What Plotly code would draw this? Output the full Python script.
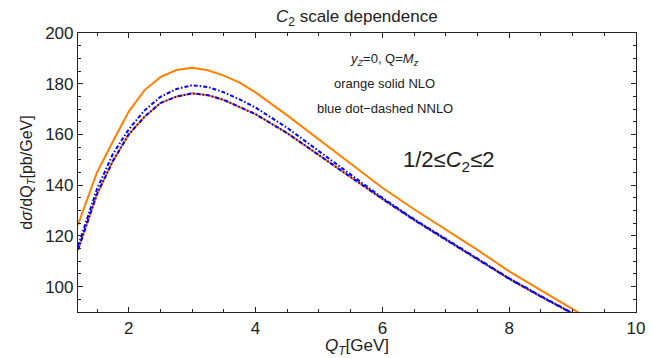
import plotly.graph_objects as go

qt = [1.2, 1.35, 1.5, 1.75, 2.0, 2.25, 2.5, 2.75, 3.0, 3.25, 3.5, 3.75, 4.0,
      4.5, 5.0, 5.5, 6.0, 6.5, 7.0, 7.5, 8.0, 8.5, 9.0, 9.2]
nlo_upper = [124.4, 134.5, 145.0, 157.2, 169.0, 177.5, 182.6, 185.4, 186.3, 185.3, 183.2, 180.4, 176.6,
             167.5, 158.0, 148.3, 139.0, 130.5, 122.6, 114.5, 106.0, 98.5, 91.0, 88.2]
nlo_lower = [114.5, 125.5, 136.5, 149.5, 160.0, 167.0, 172.4, 174.9, 176.2, 175.5, 173.6, 170.8, 168.0,
             160.5, 152.0, 143.2, 134.6, 126.3, 118.5, 110.8, 103.1, 96.1, 89.5, 86.7]
nnlo_upper = [116.0, 127.0, 138.5, 152.3, 162.0, 169.5, 174.8, 177.9, 179.4, 178.7, 176.6, 173.8, 170.6,
              162.6, 153.5, 144.2, 135.0, 126.6, 118.8, 111.0, 103.3, 96.3, 89.7, 86.9]
nnlo_lower = nlo_lower

x_ticks = [2, 4, 6, 8, 10]
y_ticks = [100, 120, 140, 160, 180, 200]

ORANGE = "#FF8000"
BLUE = "#0000FF"
DASH = "4px,2px,1.5px,2px"
INK = "#222"

fig = go.Figure()
fig.add_trace(go.Scatter(x=qt, y=nlo_upper, mode="lines", line=dict(color=ORANGE, width=2)))
fig.add_trace(go.Scatter(x=qt, y=nlo_lower, mode="lines", line=dict(color=ORANGE, width=2)))
fig.add_trace(go.Scatter(x=qt, y=nnlo_upper, mode="lines", line=dict(color=BLUE, width=2, dash=DASH)))
fig.add_trace(go.Scatter(x=qt, y=nnlo_lower, mode="lines", line=dict(color=BLUE, width=2, dash=DASH)))

font = "Liberation Sans, Arial, Helvetica, sans-serif"
axis_common = dict(showline=True, linecolor=INK, linewidth=1.2, mirror="allticks",
                   ticks="inside", ticklen=5, tickcolor=INK, showgrid=False, zeroline=False,
                   ticklabeloverflow="allow",
                   tickfont=dict(size=17, color=INK, family=font))

fig.update_xaxes(range=[1.2, 10], tickvals=x_ticks, ticktext=[str(v) for v in x_ticks],
                 minor=dict(dtick=0.5, tick0=0, ticks="inside", ticklen=3, tickcolor=INK),
                 title=dict(text="<i>Q</i><sub><i>T</i></sub>[GeV]", font=dict(size=17, family=font, color=INK),
                            standoff=2),
                 **axis_common)
fig.update_yaxes(range=[90, 200], tickvals=y_ticks, ticktext=[str(v) for v in y_ticks],
                 minor=dict(dtick=5, tick0=0, ticks="inside", ticklen=3, tickcolor=INK),
                 title=dict(text="d<i>σ</i>/dQ<sub><i>T</i></sub>[pb/GeV]", font=dict(size=16, family=font, color=INK),
                            standoff=8),
                 **axis_common)

fig.add_annotation(x=0.5, xref="paper", y=1.0, yref="paper", yanchor="middle", yshift=15, showarrow=False,
                   text="<i>C</i><sub>2</sub> scale dependence", font=dict(size=17, family=font, color=INK))
fig.add_annotation(x=6.04, y=189.5, showarrow=False, text="<i>y</i><sub><i>Z</i></sub>=0, Q=<i>M</i><sub><i>z</i></sub>",
                   font=dict(size=13, family=font, color=INK))
fig.add_annotation(x=6.03, y=179.9, showarrow=False, text="orange solid NLO",
                   font=dict(size=13, family=font, color=INK))
fig.add_annotation(x=6.04, y=170.2, showarrow=False, text="blue dot\u2212dashed NNLO",
                   font=dict(size=13, family=font, color=INK))
fig.add_annotation(x=7.04, y=149.7, showarrow=False, text="1/2\u2264<i>C</i><sub>2</sub>\u22642",
                   font=dict(size=22, family=font, color=INK))

fig.update_layout(width=652, height=358, margin=dict(l=78, r=7, t=33, b=42),
                  plot_bgcolor="white", paper_bgcolor="white", showlegend=False,
                  font=dict(family=font))
fig.write_html("out.html")
